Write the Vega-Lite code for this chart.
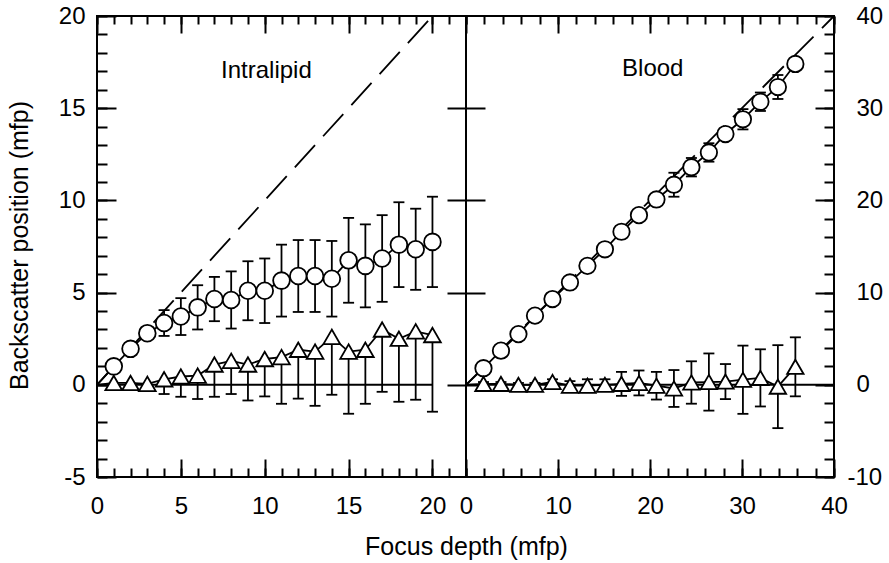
{
  "$schema": "https://vega.github.io/schema/vega-lite/v6.json",
  "background": "white",
  "padding": {"left": 6, "top": 3, "right": 0, "bottom": 0},
  "bounds": "flush",
  "spacing": 0,
  "config": {
    "view": {"stroke": "black", "strokeWidth": 2},
    "font": "Liberation Sans",
    "axis": {
      "grid": false, "domain": false, "labelFlush": false, "labelOverlap": false,
      "labelFont": "Liberation Sans", "labelFontSize": 24, "labelColor": "black",
      "tickColor": "black", "tickWidth": 2,
      "titleFont": "Liberation Sans", "titleFontSize": 25, "titleFontWeight": "normal", "titleColor": "black"
    }
  },
  "datasets": {
    "intralipid": [
      {"s": "circle", "x": 0, "y": 0},
      {"s": "triangle", "x": 0, "y": 0},
      {"s": "circle", "x": 1, "y": 1.0, "lo": 0.9, "hi": 1.1},
      {"s": "circle", "x": 2, "y": 1.95, "lo": 1.85, "hi": 2.05},
      {"s": "circle", "x": 3, "y": 2.8, "lo": 2.6, "hi": 3.0},
      {"s": "circle", "x": 4, "y": 3.35, "lo": 2.65, "hi": 4.05},
      {"s": "circle", "x": 5, "y": 3.7, "lo": 2.7, "hi": 4.7},
      {"s": "circle", "x": 6, "y": 4.2, "lo": 3.0, "hi": 5.4},
      {"s": "circle", "x": 7, "y": 4.65, "lo": 3.45, "hi": 5.85},
      {"s": "circle", "x": 8, "y": 4.6, "lo": 3.05, "hi": 6.15},
      {"s": "circle", "x": 9, "y": 5.1, "lo": 3.5, "hi": 6.7},
      {"s": "circle", "x": 10, "y": 5.1, "lo": 3.35, "hi": 6.85},
      {"s": "circle", "x": 11, "y": 5.65, "lo": 3.7, "hi": 7.6},
      {"s": "circle", "x": 12, "y": 5.9, "lo": 3.95, "hi": 7.85},
      {"s": "circle", "x": 13, "y": 5.9, "lo": 3.95, "hi": 7.85},
      {"s": "circle", "x": 14, "y": 5.75, "lo": 3.7, "hi": 7.8},
      {"s": "circle", "x": 15, "y": 6.75, "lo": 4.45, "hi": 9.05},
      {"s": "circle", "x": 16, "y": 6.45, "lo": 4.2, "hi": 8.7},
      {"s": "circle", "x": 17, "y": 6.85, "lo": 4.5, "hi": 9.2},
      {"s": "circle", "x": 18, "y": 7.6, "lo": 5.3, "hi": 9.9},
      {"s": "circle", "x": 19, "y": 7.35, "lo": 5.15, "hi": 9.55},
      {"s": "circle", "x": 20, "y": 7.75, "lo": 5.3, "hi": 10.2},
      {"s": "triangle", "x": 1, "y": 0.1, "lo": 0.0},
      {"s": "triangle", "x": 2, "y": 0.1, "lo": 0.0},
      {"s": "triangle", "x": 3, "y": 0.05, "lo": -0.15},
      {"s": "triangle", "x": 4, "y": 0.3, "lo": -0.5},
      {"s": "triangle", "x": 5, "y": 0.45, "lo": -0.65},
      {"s": "triangle", "x": 6, "y": 0.5, "lo": -0.77},
      {"s": "triangle", "x": 7, "y": 1.1, "lo": -0.65},
      {"s": "triangle", "x": 8, "y": 1.3, "lo": -0.5},
      {"s": "triangle", "x": 9, "y": 1.1, "lo": -0.85},
      {"s": "triangle", "x": 10, "y": 1.4, "lo": -0.63},
      {"s": "triangle", "x": 11, "y": 1.5, "lo": -1.03},
      {"s": "triangle", "x": 12, "y": 1.9, "lo": -0.75},
      {"s": "triangle", "x": 13, "y": 1.8, "lo": -1.14},
      {"s": "triangle", "x": 14, "y": 2.6, "lo": -0.54},
      {"s": "triangle", "x": 15, "y": 1.8, "lo": -1.57},
      {"s": "triangle", "x": 16, "y": 1.9, "lo": -1.03},
      {"s": "triangle", "x": 17, "y": 3.0, "lo": -0.38},
      {"s": "triangle", "x": 18, "y": 2.5, "lo": -0.92},
      {"s": "triangle", "x": 19, "y": 2.9, "lo": -0.81},
      {"s": "triangle", "x": 20, "y": 2.7, "lo": -1.46}
    ],
    "blood": [
      {"s": "circle", "x": 0, "y": 0},
      {"s": "triangle", "x": 0, "y": 0},
      {"s": "circle", "x": 1.9, "y": 1.8, "lo": 1.5, "hi": 2.1},
      {"s": "circle", "x": 3.8, "y": 3.7, "lo": 3.4, "hi": 4.0},
      {"s": "circle", "x": 5.7, "y": 5.5, "lo": 5.2, "hi": 5.8},
      {"s": "circle", "x": 7.5, "y": 7.5, "lo": 7.2, "hi": 7.8},
      {"s": "circle", "x": 9.4, "y": 9.3, "lo": 9.0, "hi": 9.6},
      {"s": "circle", "x": 11.3, "y": 11.1, "lo": 10.8, "hi": 11.4},
      {"s": "circle", "x": 13.2, "y": 12.9, "lo": 12.6, "hi": 13.2},
      {"s": "circle", "x": 15.1, "y": 14.7, "lo": 14.4, "hi": 15.0},
      {"s": "circle", "x": 16.9, "y": 16.6, "lo": 16.3, "hi": 16.9},
      {"s": "circle", "x": 18.8, "y": 18.4, "lo": 18.1, "hi": 18.7},
      {"s": "circle", "x": 20.7, "y": 20.1, "lo": 19.6, "hi": 20.6},
      {"s": "circle", "x": 22.6, "y": 21.7, "lo": 20.4, "hi": 23.0},
      {"s": "circle", "x": 24.5, "y": 23.6, "lo": 22.6, "hi": 24.6},
      {"s": "circle", "x": 26.4, "y": 25.2, "lo": 24.2, "hi": 26.2},
      {"s": "circle", "x": 28.2, "y": 27.2, "lo": 26.7, "hi": 27.7},
      {"s": "circle", "x": 30.1, "y": 28.8, "lo": 27.7, "hi": 29.9},
      {"s": "circle", "x": 32.0, "y": 30.7, "lo": 29.7, "hi": 31.7},
      {"s": "circle", "x": 33.9, "y": 32.3, "lo": 31.0, "hi": 33.6},
      {"s": "circle", "x": 35.8, "y": 34.8, "lo": 34.4, "hi": 35.2},
      {"s": "triangle", "x": 1.9, "y": 0.1, "lo": -0.1, "hi": 0.3},
      {"s": "triangle", "x": 3.8, "y": 0.1, "lo": -0.1, "hi": 0.3},
      {"s": "triangle", "x": 5.7, "y": 0.0, "lo": -0.2, "hi": 0.2},
      {"s": "triangle", "x": 7.5, "y": 0.0, "lo": -0.2, "hi": 0.2},
      {"s": "triangle", "x": 9.4, "y": 0.3, "lo": 0.0, "hi": 0.6},
      {"s": "triangle", "x": 11.3, "y": -0.1, "lo": -0.6, "hi": 0.4},
      {"s": "triangle", "x": 13.2, "y": -0.1, "lo": -0.8, "hi": 0.6},
      {"s": "triangle", "x": 15.1, "y": 0.0, "lo": -0.6, "hi": 0.6},
      {"s": "triangle", "x": 16.9, "y": 0.1, "lo": -1.2, "hi": 1.4},
      {"s": "triangle", "x": 18.8, "y": 0.2, "lo": -1.15, "hi": 1.55},
      {"s": "triangle", "x": 20.7, "y": -0.1, "lo": -1.6, "hi": 1.4},
      {"s": "triangle", "x": 22.6, "y": -0.4, "lo": -2.4, "hi": 1.6},
      {"s": "triangle", "x": 24.5, "y": 0.25, "lo": -2.05, "hi": 2.55},
      {"s": "triangle", "x": 26.4, "y": 0.3, "lo": -2.8, "hi": 3.4},
      {"s": "triangle", "x": 28.2, "y": 0.35, "lo": -1.55, "hi": 2.25},
      {"s": "triangle", "x": 30.1, "y": 0.55, "lo": -3.15, "hi": 4.25},
      {"s": "triangle", "x": 32.0, "y": 0.75, "lo": -2.35, "hi": 3.85},
      {"s": "triangle", "x": 33.9, "y": -0.2, "lo": -4.7, "hi": 4.3},
      {"s": "triangle", "x": 35.8, "y": 1.95, "lo": -1.25, "hi": 5.15}
    ]
  },
  "hconcat": [
    {
      "width": 369,
      "height": 461,
      "resolve": {"axis": {"x": "independent", "y": "independent"}},
      "layer": [
        {
          "data": {"values": [{}]},
          "mark": {"type": "rule", "strokeWidth": 2, "color": "black"},
          "encoding": {
            "x": {"datum": 0, "type": "quantitative", "scale": {"domain": [0, 22], "nice": false, "zero": false},
              "axis": {"orient": "bottom", "values": [0, 5, 10, 15, 20], "tickSize": -18, "labelPadding": 35,
                "title": "Focus depth (mfp)", "titleX": 369, "titleY": 77, "titleAlign": "center", "titleBaseline": "alphabetic"}},
            "x2": {"datum": 20},
            "y": {"datum": 0, "type": "quantitative", "scale": {"domain": [-5, 20], "nice": false, "zero": false},
              "axis": {"orient": "left", "values": [-5, 0, 5, 10, 15, 20], "tickSize": -19, "labelPadding": 31,
                "labelExpr": "datum.value < 0 ? '-' + format(-datum.value, 'd') : datum.label",
                "title": "Backscatter position (mfp)", "titleX": -70, "titleY": 229, "titleAngle": -90,
                "titleAlign": "center", "titleBaseline": "alphabetic"}}
          }
        },
        {
          "data": {"values": [{}]},
          "mark": {"type": "rule", "strokeWidth": 1.8, "strokeDash": [30, 12], "color": "black"},
          "encoding": {
            "x": {"datum": 0, "type": "quantitative",
              "axis": {"orient": "bottom", "values": [0,1,2,3,4,5,6,7,8,9,10,11,12,13,14,15,16,17,18,19,20,21,22], "tickSize": -9, "labels": false, "title": null}},
            "x2": {"datum": 20},
            "y": {"datum": 0, "type": "quantitative",
              "axis": {"orient": "left", "values": [-5,-4,-3,-2,-1,0,1,2,3,4,5,6,7,8,9,10,11,12,13,14,15,16,17,18,19,20], "tickSize": -10, "labels": false, "title": null}},
            "y2": {"datum": 20}
          }
        },
        {
          "data": {"name": "intralipid"},
          "mark": {"type": "line", "strokeWidth": 1.8, "color": "black"},
          "encoding": {
            "x": {"field": "x", "type": "quantitative",
              "axis": {"orient": "top", "values": [0, 5, 10, 15, 20], "tickSize": -17, "labels": false, "title": null}},
            "y": {"field": "y", "type": "quantitative",
              "axis": {"orient": "right", "values": [0, 5, 10, 15], "tickSize": 19, "labels": false, "title": null}},
            "detail": {"field": "s"}
          }
        },
        {
          "data": {"name": "intralipid"},
          "transform": [{"filter": "isValid(datum.lo)"}],
          "mark": {"type": "rule", "strokeWidth": 1.8, "color": "black"},
          "encoding": {
            "x": {"field": "x", "type": "quantitative",
              "axis": {"orient": "top", "values": [0,1,2,3,4,5,6,7,8,9,10,11,12,13,14,15,16,17,18,19,20,21,22], "tickSize": -8, "labels": false, "title": null}},
            "y": {"field": "lo", "type": "quantitative", "axis": null},
            "y2": {"field": "y"}
          }
        },
        {
          "data": {"name": "intralipid"},
          "transform": [{"filter": "isValid(datum.hi)"}],
          "mark": {"type": "rule", "strokeWidth": 1.8, "color": "black"},
          "encoding": {
            "x": {"field": "x", "type": "quantitative", "axis": null},
            "y": {"field": "y", "type": "quantitative", "axis": null},
            "y2": {"field": "hi"}
          }
        },
        {
          "data": {"name": "intralipid"},
          "transform": [{"filter": "isValid(datum.lo)"}],
          "mark": {"type": "tick", "orient": "horizontal", "size": 11, "thickness": 1.8, "color": "black", "opacity": 1},
          "encoding": {
            "x": {"field": "x", "type": "quantitative", "axis": null},
            "y": {"field": "lo", "type": "quantitative", "axis": null}
          }
        },
        {
          "data": {"name": "intralipid"},
          "transform": [{"filter": "isValid(datum.hi)"}],
          "mark": {"type": "tick", "orient": "horizontal", "size": 11, "thickness": 1.8, "color": "black", "opacity": 1},
          "encoding": {
            "x": {"field": "x", "type": "quantitative", "axis": null},
            "y": {"field": "hi", "type": "quantitative", "axis": null}
          }
        },
        {
          "data": {"name": "intralipid"},
          "transform": [{"filter": "datum.x > 0"}],
          "mark": {"type": "point", "filled": true, "fill": "white", "stroke": "black", "strokeWidth": 1.8, "size": 280, "opacity": 1},
          "encoding": {
            "x": {"field": "x", "type": "quantitative", "axis": null},
            "y": {"field": "y", "type": "quantitative", "axis": null},
            "shape": {"field": "s", "type": "nominal", "scale": {"domain": ["circle", "triangle"], "range": ["circle", "triangle-up"]}, "legend": null}
          }
        },
        {
          "data": {"values": [{}]},
          "mark": {"type": "text", "fontSize": 24, "font": "Liberation Sans", "align": "center", "baseline": "middle", "color": "black"},
          "encoding": {
            "x": {"datum": 10.1, "type": "quantitative", "axis": null},
            "y": {"datum": 17, "type": "quantitative", "axis": null},
            "text": {"value": "Intralipid"}
          }
        }
      ]
    },
    {
      "width": 368,
      "height": 461,
      "resolve": {"axis": {"x": "independent", "y": "independent"}},
      "layer": [
        {
          "data": {"values": [{}]},
          "mark": {"type": "rule", "strokeWidth": 2, "color": "black"},
          "encoding": {
            "x": {"datum": 0, "type": "quantitative", "scale": {"domain": [0, 40], "nice": false, "zero": false},
              "axis": {"orient": "bottom", "values": [0, 10, 20, 30, 40], "tickSize": -18, "labelPadding": 35, "title": null}},
            "x2": {"datum": 40},
            "y": {"datum": 0, "type": "quantitative", "scale": {"domain": [-10, 40], "nice": false, "zero": false},
              "axis": {"orient": "right", "values": [-10, 0, 10, 20, 30, 40], "tickSize": -19,
                "labelPadding": {"condition": {"test": "datum.value < 0", "value": 32}, "value": 41},
                "labelExpr": "datum.value < 0 ? '-' + format(-datum.value, 'd') : datum.label",
                "title": null}}
          }
        },
        {
          "data": {"values": [{}]},
          "mark": {"type": "rule", "strokeWidth": 1.8, "strokeDash": [30, 12], "color": "black"},
          "encoding": {
            "x": {"datum": 0, "type": "quantitative",
              "axis": {"orient": "bottom", "values": [0,2,4,6,8,10,12,14,16,18,20,22,24,26,28,30,32,34,36,38,40], "tickSize": -9, "labels": false, "title": null}},
            "x2": {"datum": 40},
            "y": {"datum": 0, "type": "quantitative",
              "axis": {"orient": "right", "values": [-10,-8,-6,-4,-2,0,2,4,6,8,10,12,14,16,18,20,22,24,26,28,30,32,34,36,38,40], "tickSize": -10, "labels": false, "title": null}},
            "y2": {"datum": 40}
          }
        },
        {
          "data": {"name": "blood"},
          "mark": {"type": "line", "strokeWidth": 1.8, "color": "black"},
          "encoding": {
            "x": {"field": "x", "type": "quantitative",
              "axis": {"orient": "top", "values": [0, 10, 20, 30, 40], "tickSize": -17, "labels": false, "title": null}},
            "y": {"field": "y", "type": "quantitative",
              "axis": {"orient": "left", "values": [0, 10, 20, 30], "tickSize": 19, "labels": false, "title": null}},
            "detail": {"field": "s"}
          }
        },
        {
          "data": {"name": "blood"},
          "transform": [{"filter": "isValid(datum.lo)"}],
          "mark": {"type": "rule", "strokeWidth": 1.8, "color": "black"},
          "encoding": {
            "x": {"field": "x", "type": "quantitative",
              "axis": {"orient": "top", "values": [0,2,4,6,8,10,12,14,16,18,20,22,24,26,28,30,32,34,36,38,40], "tickSize": -8, "labels": false, "title": null}},
            "y": {"field": "lo", "type": "quantitative", "axis": null},
            "y2": {"field": "hi"}
          }
        },
        {
          "data": {"name": "blood"},
          "transform": [{"filter": "isValid(datum.lo)"}],
          "mark": {"type": "tick", "orient": "horizontal", "size": 11, "thickness": 1.8, "color": "black", "opacity": 1},
          "encoding": {
            "x": {"field": "x", "type": "quantitative", "axis": null},
            "y": {"field": "lo", "type": "quantitative", "axis": null}
          }
        },
        {
          "data": {"name": "blood"},
          "transform": [{"filter": "isValid(datum.hi)"}],
          "mark": {"type": "tick", "orient": "horizontal", "size": 11, "thickness": 1.8, "color": "black", "opacity": 1},
          "encoding": {
            "x": {"field": "x", "type": "quantitative", "axis": null},
            "y": {"field": "hi", "type": "quantitative", "axis": null}
          }
        },
        {
          "data": {"name": "blood"},
          "transform": [{"filter": "datum.x > 0"}],
          "mark": {"type": "point", "filled": true, "fill": "white", "stroke": "black", "strokeWidth": 1.8, "size": 270, "opacity": 1},
          "encoding": {
            "x": {"field": "x", "type": "quantitative", "axis": null},
            "y": {"field": "y", "type": "quantitative", "axis": null},
            "shape": {"field": "s", "type": "nominal", "scale": {"domain": ["circle", "triangle"], "range": ["circle", "triangle-up"]}, "legend": null}
          }
        },
        {
          "data": {"values": [{}]},
          "mark": {"type": "text", "fontSize": 24, "font": "Liberation Sans", "align": "center", "baseline": "middle", "color": "black"},
          "encoding": {
            "x": {"datum": 20.3, "type": "quantitative", "axis": null},
            "y": {"datum": 34.2, "type": "quantitative", "axis": null},
            "text": {"value": "Blood"}
          }
        }
      ]
    }
  ]
}
